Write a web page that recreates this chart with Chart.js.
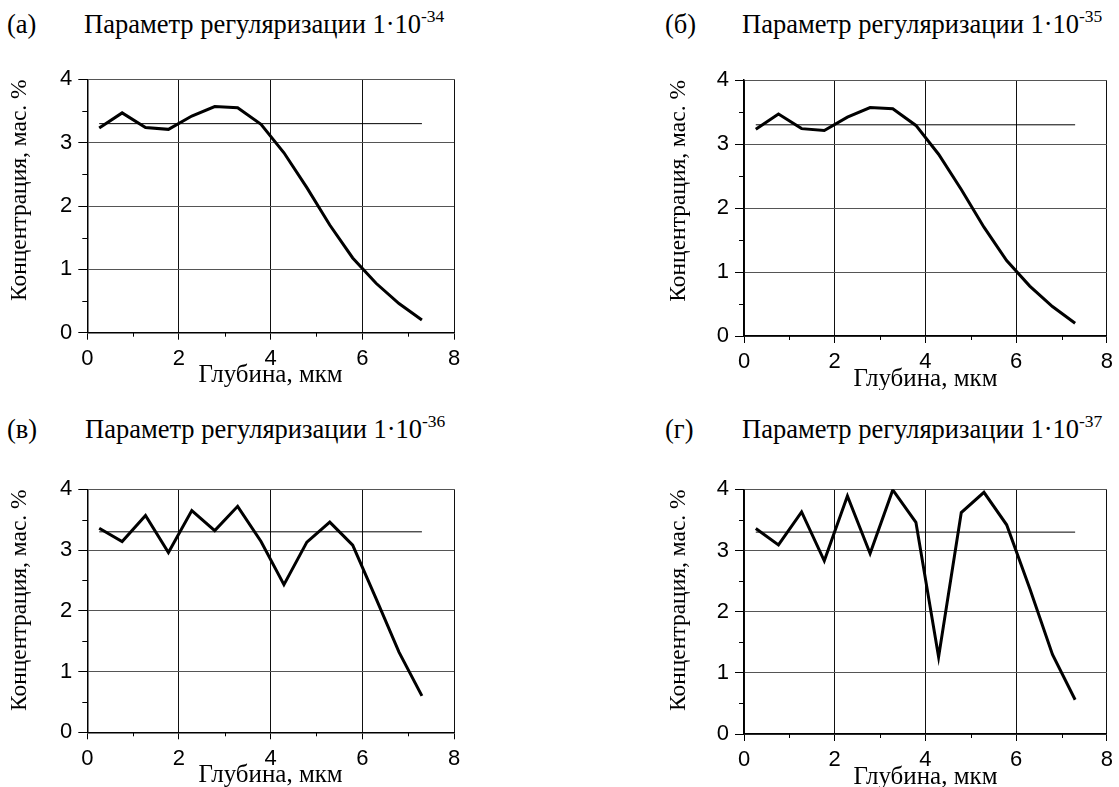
<!DOCTYPE html>
<html>
<head>
<meta charset="utf-8">
<script src="https://cdn.jsdelivr.net/npm/chart.js@4.4.1/dist/chart.umd.min.js"></script>
<style>
  body { margin:0; background:#fff; width:1119px; height:787px; position:relative; overflow:hidden; font-family:"Liberation Serif", "Times New Roman", serif; }
  .box { position:absolute; }
  .lab { position:absolute; font-size:26.5px; line-height:26.5px; white-space:nowrap; color:#000; }
  .lab sup { font-size:17.5px; vertical-align:baseline; position:relative; top:-11px; }
</style>
</head>
<body>
<div class="lab" style="left:7px;top:11px">(а)</div>
<div class="lab" style="left:84px;top:11px">Параметр регуляризации 1·10<sup>-34</sup></div>
<div class="lab" style="left:665px;top:11px">(б)</div>
<div class="lab" style="left:742px;top:11px">Параметр регуляризации 1·10<sup>-35</sup></div>
<div class="lab" style="left:7px;top:416px">(в)</div>
<div class="lab" style="left:85px;top:416px">Параметр регуляризации 1·10<sup>-36</sup></div>
<div class="lab" style="left:665px;top:416px">(г)</div>
<div class="lab" style="left:742px;top:416px">Параметр регуляризации 1·10<sup>-37</sup></div>

<div class="box" style="left:0;top:50px"><canvas id="chartA" width="470" height="340"></canvas></div>
<div class="box" style="left:660px;top:50px"><canvas id="chartB" width="459" height="340"></canvas></div>
<div class="box" style="left:0;top:455px"><canvas id="chartV" width="470" height="345"></canvas></div>
<div class="box" style="left:660px;top:455px"><canvas id="chartG" width="459" height="345"></canvas></div>

<script>
// глубина, мкм
var depth = [0.26, 0.76, 1.27, 1.77, 2.28, 2.78, 3.28, 3.79, 4.29, 4.79, 5.29, 5.79, 6.30, 6.80, 7.30];
// концентрация, мас. %
var concA = [3.23, 3.47, 3.24, 3.21, 3.42, 3.57, 3.55, 3.29, 2.84, 2.29, 1.70, 1.18, 0.78, 0.46, 0.20];
var concB = [3.23, 3.47, 3.24, 3.21, 3.42, 3.57, 3.55, 3.29, 2.84, 2.29, 1.70, 1.18, 0.78, 0.46, 0.20];
var concV = [3.36, 3.14, 3.57, 2.96, 3.65, 3.32, 3.72, 3.14, 2.43, 3.13, 3.46, 3.08, 2.20, 1.32, 0.60];
var concG = [3.36, 3.09, 3.63, 2.83, 3.89, 2.95, 3.99, 3.46, 1.26, 3.62, 3.95, 3.42, 2.38, 1.30, 0.56];
var refLevel = 3.3;

var xMajor = 2, yMajor = 1;
var xMinorTicks = [1, 3, 5, 7];
var yMinorTicks = [0.5, 1.5, 2.5, 3.5];

var minorTicks = {
  id: 'minorTicks',
  afterDraw: function(chart) {
    var ctx = chart.ctx, a = chart.chartArea;
    var xs = chart.scales.x, ys = chart.scales.y;
    ctx.save();
    ctx.strokeStyle = '#000';
    ctx.lineWidth = 1;
    ctx.beginPath();
    xMinorTicks.forEach(function(v) {
      var px = Math.round(xs.getPixelForValue(v)) + 0.5;
      ctx.moveTo(px, a.bottom); ctx.lineTo(px, a.bottom + 4);
    });
    yMinorTicks.forEach(function(v) {
      var py = Math.round(ys.getPixelForValue(v)) + 0.5;
      ctx.moveTo(a.left - 5, py); ctx.lineTo(a.left, py);
    });
    ctx.stroke();
    ctx.restore();
  }
};

function pts(vals) {
  return vals.map(function(v, i) { return {x: depth[i], y: v}; });
}

// g: container left/top/width/height + plot rectangle in page pixels
function makePanel(id, vals, g) {
  var padTop = g.t - g.top, padRight = g.left + g.w - g.r;
  var yW = g.l - g.left, xH = g.top + g.h - g.b;
  var xTitlePad = (g.top + g.h) - 15 - (g.b + 43);
  new Chart(document.getElementById(id), {
    type: 'line',
    data: {
      datasets: [{
        data: pts(vals),
        borderColor: '#000',
        borderWidth: 3,
        pointRadius: 0,
        tension: 0
      }, {
        data: [{x: depth[0], y: refLevel}, {x: depth[depth.length - 1], y: refLevel}],
        borderColor: '#000',
        borderWidth: 1,
        pointRadius: 0
      }]
    },
    options: {
      responsive: false,
      animation: false,
      layout: { padding: { top: padTop, right: padRight, left: 0, bottom: 0 } },
      plugins: { legend: { display: false }, tooltip: { enabled: false } },
      scales: {
        x: {
          type: 'linear', min: 0, max: 8,
          ticks: { stepSize: xMajor, color: '#000', padding: 6, maxRotation: 0,
                   font: { family: 'Liberation Sans', size: 22 } },
          grid: { color: '#111', lineWidth: 1, tickLength: 7, tickColor: '#000' },
          border: { color: '#000', width: 1.5 },
          title: { display: true, text: 'Глубина, мкм', color: '#000',
                   font: { family: 'Liberation Serif', size: 25 },
                   padding: { top: 0, bottom: xTitlePad } },
          afterFit: function(s) { s.height = xH; }
        },
        y: {
          min: 0, max: 4,
          ticks: { stepSize: yMajor, color: '#000', padding: 6,
                   font: { family: 'Liberation Sans', size: 22 } },
          grid: { color: '#555', lineWidth: 1, tickLength: 9, tickColor: '#000' },
          border: { color: '#000', width: 1.5 },
          title: { display: true, text: 'Концентрация, мас. %', color: '#000', align: 'end',
                   font: { family: 'Liberation Serif', size: 23.5 },
                   padding: { top: g.yTitle, bottom: 0 } },
          afterFit: function(s) { s.width = yW; }
        }
      }
    },
    plugins: [minorTicks]
  });
}

makePanel('chartA', concA, {left: 0,   top: 50,  w: 470, h: 340, l: 87.3, t: 79.3,  r: 454,   b: 332.7, yTitle: 6});
makePanel('chartB', concB, {left: 660, top: 50,  w: 459, h: 340, l: 744,  t: 80,    r: 1111,  b: 336,   yTitle: 4.5});
makePanel('chartV', concV, {left: 0,   top: 455, w: 470, h: 345, l: 87.3, t: 489.3, r: 454,   b: 732.3, yTitle: 6});
makePanel('chartG', concG, {left: 660, top: 455, w: 459, h: 345, l: 744,  t: 489.3, r: 1110.7, b: 734,  yTitle: 4.5});
</script>
</body>
</html>
